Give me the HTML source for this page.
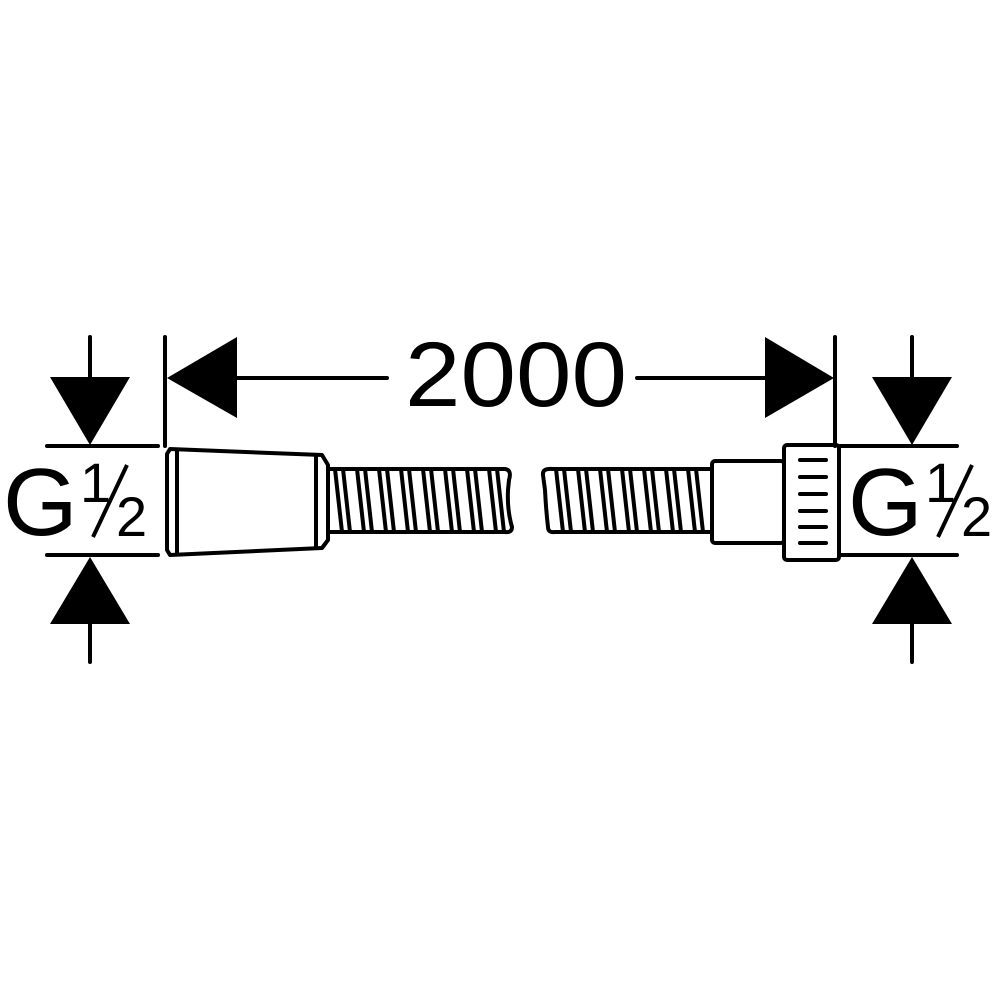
<!DOCTYPE html>
<html><head><meta charset="utf-8"><style>html,body{margin:0;background:#fff}</style></head>
<body>
<svg width="1000" height="1000" viewBox="0 0 1000 1000" xmlns="http://www.w3.org/2000/svg">
<g stroke="#000" stroke-width="4" fill="none" stroke-linecap="round" stroke-linejoin="round">
<line x1="90" y1="337" x2="90" y2="380"/>
<line x1="47" y1="446" x2="158" y2="446"/>
<line x1="47" y1="555" x2="158" y2="555"/>
<line x1="90" y1="620" x2="90" y2="662"/>
<line x1="165" y1="337" x2="165" y2="446"/>
<line x1="835" y1="337" x2="835" y2="446"/>
<line x1="237" y1="378" x2="387" y2="378"/>
<line x1="637" y1="378" x2="765" y2="378"/>
<line x1="840" y1="446" x2="957" y2="446"/>
<line x1="840" y1="555" x2="957" y2="555"/>
<line x1="912" y1="337" x2="912" y2="380"/>
<line x1="912" y1="620" x2="912" y2="662"/>
<path d="M170 449 L322 455 L328 465 L328 540 L322 548 L170 555 L167 550 L167 454 Z"/>
<line x1="177" y1="451" x2="177" y2="553"/>
<line x1="316" y1="456" x2="316" y2="547"/>
<path d="M328 469 L505 469 Q512 470 509 480 L508 490 Q507 510 512 527 Q512 533 505 532 L328 532"/>
<path d="M712 469 L553 469 Q542 468 543 475 L545 490 Q546 510 548 527 Q548 533 555 532 L712 532"/>
<rect x="712" y="461" width="72" height="82" rx="3"/>
<rect x="784" y="445" width="55" height="115" rx="3"/>
</g>
<g stroke="#000" stroke-width="4" stroke-linecap="round">
<line x1="800" y1="460" x2="826" y2="460"/>
<line x1="800" y1="477" x2="826" y2="477"/>
<line x1="800" y1="494" x2="826" y2="494"/>
<line x1="800" y1="511" x2="826" y2="511"/>
<line x1="800" y1="527" x2="826" y2="527"/>
<line x1="800" y1="543" x2="826" y2="543"/>
</g>
<g stroke="#000" stroke-width="4" fill="none">
<path d="M335 469 L342 532 M343 469 L350 532"/>
<path d="M357 469 L364 532 M365 469 L372 532"/>
<path d="M379 469 L386 532 M387 469 L394 532"/>
<path d="M401 469 L408 532 M409 469 L416 532"/>
<path d="M423 469 L430 532 M431 469 L438 532"/>
<path d="M445 469 L452 532 M453 469 L460 532"/>
<path d="M467 469 L474 532 M475 469 L482 532"/>
<path d="M489 469 L496 532 M497 469 L504 532"/>
<path d="M556 469 L563 532 M564 469 L571 532"/>
<path d="M578 469 L585 532 M586 469 L593 532"/>
<path d="M600 469 L607 532 M608 469 L615 532"/>
<path d="M622 469 L629 532 M630 469 L637 532"/>
<path d="M644 469 L651 532 M652 469 L659 532"/>
<path d="M666 469 L673 532 M674 469 L681 532"/>
<path d="M688 469 L695 532 M696 469 L703 532"/>
</g>
<g fill="#000">
<polygon points="50,377 130,377 90,445"/>
<polygon points="50,624 130,624 90,557"/>
<polygon points="872,377 952,377 912,445"/>
<polygon points="872,624 952,624 912,557"/>
<polygon points="167,378 237,337 237,418"/>
<polygon points="834,378 765,337 765,418"/>
</g>
<g font-family="Liberation Sans, sans-serif" fill="#000">
<text x="405" y="406" font-size="92" textLength="222" lengthAdjust="spacingAndGlyphs">2000</text>
<text x="3" y="535" font-size="96">G</text>
<text x="80" y="502" font-size="56">1</text>
<text x="116" y="536" font-size="56">2</text>
<text x="848" y="535" font-size="96">G</text>
<text x="925" y="502" font-size="56">1</text>
<text x="961" y="536" font-size="56">2</text>
</g>
<g stroke="#000" stroke-width="4"><line x1="127" y1="465" x2="93" y2="537"/><line x1="972" y1="465" x2="938" y2="537"/></g>
</svg>
</body></html>
